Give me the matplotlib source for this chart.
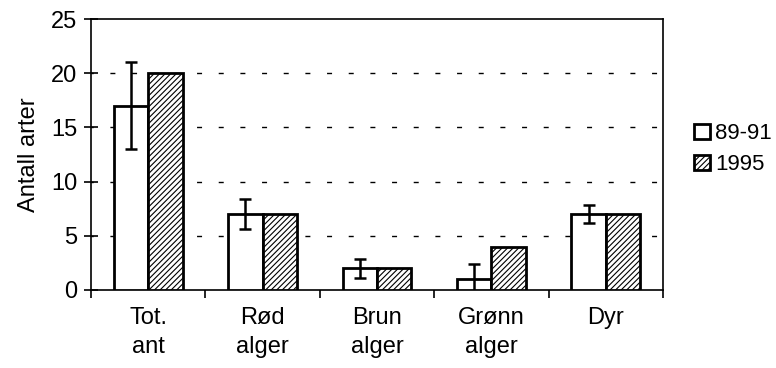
import numpy as np
import matplotlib.pyplot as plt

plt.rcParams['font.family'] = ['Liberation Sans', 'DejaVu Sans']
plt.rcParams['hatch.linewidth'] = 0.8

categories = ['Tot.\nant', 'Rød\nalger', 'Brun\nalger', 'Grønn\nalger', 'Dyr']
vals_8991 = [17, 7, 2, 1, 7]
err_8991 = [4.0, 1.4, 0.85, 1.4, 0.8]
vals_1995 = [20, 7, 2, 4, 7]

fs = 17

fig = plt.figure(figsize=(7.76, 3.68), dpi=100)
ax = fig.add_axes([91 / 776, 1 - 290 / 368, 572 / 776, 271 / 368])

x = np.arange(len(categories))
w = 0.3
ax.bar(x - w / 2, vals_8991, w, color='white', edgecolor='black', linewidth=2,
       label='89-91', zorder=3)
ax.bar(x + w / 2, vals_1995, w, color='white', edgecolor='black', linewidth=2,
       hatch='//////', label='1995', zorder=3)
ax.errorbar(x - w / 2, vals_8991, yerr=err_8991, fmt='none', ecolor='black',
            elinewidth=1.8, capsize=4.5, capthick=1.8, zorder=4)

ax.set_xlim(-0.5, len(categories) - 0.5)
ax.set_ylim(0, 25)
ax.set_yticks([0, 5, 10, 15, 20, 25])
for y in [5, 10, 15, 20]:
    ax.axhline(y, color='black', linestyle=(2, (3.6, 12)), linewidth=1, zorder=1)

# category ticks sit between the groups
ax.set_xticks(np.arange(-0.5, len(categories)), minor=False)
ax.set_xticklabels([])
ax.set_xticks(x, minor=True)
ax.set_xticklabels(categories, minor=True, fontsize=fs, linespacing=1.45)
ax.tick_params(axis='x', which='minor', length=0, pad=12)
ax.tick_params(axis='x', which='major', direction='out', length=6, width=1.2)
ax.tick_params(axis='y', direction='inout', length=10, width=1.2, labelsize=fs, pad=5)

for s in ax.spines.values():
    s.set_linewidth(1.2)

ax.set_ylabel('Antall arter', fontsize=fs, labelpad=8)

ax.legend(loc='center left', bbox_to_anchor=(1.035, 0.52), frameon=False,
          fontsize=16, handlelength=0.7, handleheight=0.7, handletextpad=0.25,
          labelspacing=0.45, borderpad=0)

fig.savefig('out.png', dpi=100)
